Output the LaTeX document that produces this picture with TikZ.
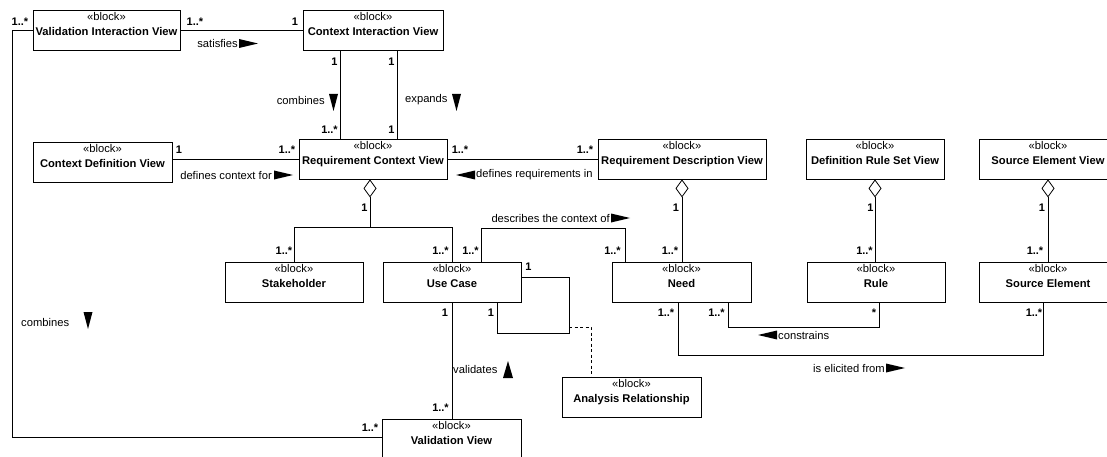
\documentclass[tikz,border=0pt]{standalone}
\usepackage{fontspec}
\setmainfont{Liberation Sans}
\usetikzlibrary{arrows.meta}
\begin{document}
\begin{tikzpicture}[x=1pt,y=-1pt,
  font=\fontsize{11.2}{15}\selectfont,
  conn/.style={line width=0.8pt},
  agg/.style={conn,-{Diamond[open,length=18pt,width=13pt]}},
  dep/.style={conn,dash pattern=on 3pt off 2.5pt},
  blkt/.style={anchor=north,align=center,inner sep=0pt,yshift=-2.5pt,
    font=\fontsize{11.2}{15}\selectfont},
  blk/.style={draw,line width=0.8pt,fill=white,minimum height=40pt,inner sep=0pt,
    label={[blkt]north:{«block»\\\textbf{#1}}}},
  mult/.style={inner sep=0pt,font=\fontsize{11}{13}\selectfont\bfseries},
  rl/.style={inner sep=0pt},
  rtri/.pic={\fill (0,-4.5) -- (19,0) -- (0,4.5) -- cycle;},
  ltri/.pic={\fill (0,0) -- (19,-4.5) -- (19,4.5) -- cycle;},
  dtri/.pic={\fill (-4.5,0) -- (4.5,0) -- (0,17) -- cycle;},
  utri/.pic={\fill (-5,17) -- (5,17) -- (0,0) -- cycle;},
]
\useasboundingbox (0,0) rectangle (1107,457);

% blocks
\node[blk={Validation Interaction View},minimum width=147pt] (viv) at (106.5,30) {};
\node[blk={Context Interaction View},minimum width=140pt] (civ) at (373,30) {};
\node[blk={Context Definition View},minimum width=139pt] (cdv) at (102.5,162) {};
\node[blk={Requirement Context View},minimum width=148pt] (rcv) at (373,159) {};
\node[blk={Requirement Description View},minimum width=168pt] (rdv) at (682,159) {};
\node[blk={Definition Rule Set View},minimum width=138pt] (drsv) at (875,159) {};
\node[blk={Source Element View},minimum width=138pt] (sev) at (1048,159) {};
\node[blk={Stakeholder},minimum width=138pt] (stk) at (294,282) {};
\node[blk={Use Case},minimum width=138pt] (uc) at (452,282) {};
\node[blk={Need},minimum width=139pt] (need) at (681.5,282) {};
\node[blk={Rule},minimum width=138pt] (rule) at (876,282) {};
\node[blk={Source Element},minimum width=138pt] (se) at (1048,282) {};
\node[blk={Analysis Relationship},minimum width=139pt] (ar) at (631.5,397) {};
\node[blk={Validation View},minimum width=139pt] (vv) at (451.5,439) {};

% routing points
\coordinate (lc) at (12,437);
\coordinate (tj) at (370,227);
\coordinate (dtop) at (625,228);
\coordinate (lp) at (569,333);
\coordinate (lpd) at (569,327);
\coordinate (cb) at (879,327);
\coordinate (eb) at (1043,355);

% connectors
\draw[conn] (viv.east) -- (civ.west);
\draw[conn] (viv.west) -| (lc) -- (lc -| vv.west);
\draw[conn] ([xshift=-33pt]civ.south) -- ([xshift=-33pt]rcv.north);
\draw[conn] ([xshift=24pt]civ.south) -- ([xshift=24pt]rcv.north);
\draw[conn] (rcv.west) -- (rcv.west -| cdv.east);
\draw[conn] (rcv.east) -- (rdv.west);
\draw[agg] (tj) -- (tj |- rcv.south);
\draw[conn] (stk.north) -- (stk.north |- tj) -- (tj -| uc.north) -- (uc.north);
\draw[conn] ([xshift=29pt]uc.north) |- (dtop) -- (dtop |- need.north);
\draw[agg] (rdv.south |- need.north) -- (rdv.south);
\draw[agg] (drsv.south |- rule.north) -- (drsv.south);
\draw[agg] (se.north) -- (sev.south);
\draw[conn] (uc.south) -- (uc.south |- vv.north);
\draw[conn] ([yshift=5pt]uc.east) -| (lp) -| ([xshift=45pt]uc.south);
\draw[dep] (lpd) -| ([xshift=-40.5pt]ar.north);
\draw[conn] ([xshift=46.5pt]need.south) |- (cb) -- (cb |- rule.south);
\draw[conn] ([xshift=-3.5pt]need.south) |- (eb) -- (eb |- se.south);

% multiplicities
\node[mult] (m1) at (20,22) {1..*};
\node[mult] (m2) at (195,22) {1..*};
\node[mult] (m3) at (295,22) {1};
\node[mult] (m4) at (334.5,62) {1};
\node[mult] (m5) at (391.5,62) {1};
\node[mult] (m6) at (329.5,130) {1..*};
\node[mult] (m7) at (391.5,130) {1};
\node[mult] (m8) at (179,150) {1};
\node[mult] (m9) at (287,150) {1..*};
\node[mult] (m10) at (460,150) {1..*};
\node[mult] (m11) at (585,150) {1..*};
\node[mult] (m12) at (364.5,208) {1};
\node[mult] (m13) at (284,251) {1..*};
\node[mult] (m14) at (440.5,251) {1..*};
\node[mult] (m15) at (470.5,251) {1..*};
\node[mult] (m16) at (612.5,251) {1..*};
\node[mult] (m17) at (670,251) {1..*};
\node[mult] (m18) at (676,208) {1};
\node[mult] (m19) at (870.5,208) {1};
\node[mult] (m20) at (864.5,251) {1..*};
\node[mult] (m21) at (1042,208) {1};
\node[mult] (m22) at (1035,251) {1..*};
\node[mult] (m23) at (528.5,267) {1};
\node[mult] (m24) at (445,313) {1};
\node[mult] (m25) at (491,313) {1};
\node[mult] (m26) at (440.5,408) {1..*};
\node[mult] (m27) at (370,428) {1..*};
\node[mult] (m28) at (666,313) {1..*};
\node[mult] (m29) at (716.5,313) {1..*};
\node[mult] (m30) at (874,313) {*};
\node[mult] (m31) at (1034,313) {1..*};

% association names with direction marks
\node[rl,anchor=east] (l1) at (238,43.5) {satisfies};
\pic at (239,43.5) {rtri};
\node[rl,anchor=east] (l2) at (272,175) {defines context for};
\pic at (274,175) {rtri};
\node[rl,anchor=west] (l3) at (476,175) {defines requirements in};
\pic at (456,175) {ltri};
\node[rl,anchor=east] (l4) at (610,218) {describes the context of};
\pic at (611,218) {rtri};
\node[rl,anchor=east] (l5) at (325,100) {combines};
\pic at (333.5,94) {dtri};
\node[rl,anchor=west] (l6) at (405,100) {expands};
\pic at (456.5,94) {dtri};
\node[rl,anchor=west] (l7) at (21,322) {combines};
\pic at (88,312) {dtri};
\node[rl,anchor=west] (l8) at (453,369) {validates};
\pic at (508,361) {utri};
\node[rl,anchor=west] (l9) at (778,335) {constrains};
\pic at (758,335) {ltri};
\node[rl,anchor=east] (l10) at (885,368) {is elicited from};
\pic at (886,368) {rtri};
\end{tikzpicture}
\end{document}
